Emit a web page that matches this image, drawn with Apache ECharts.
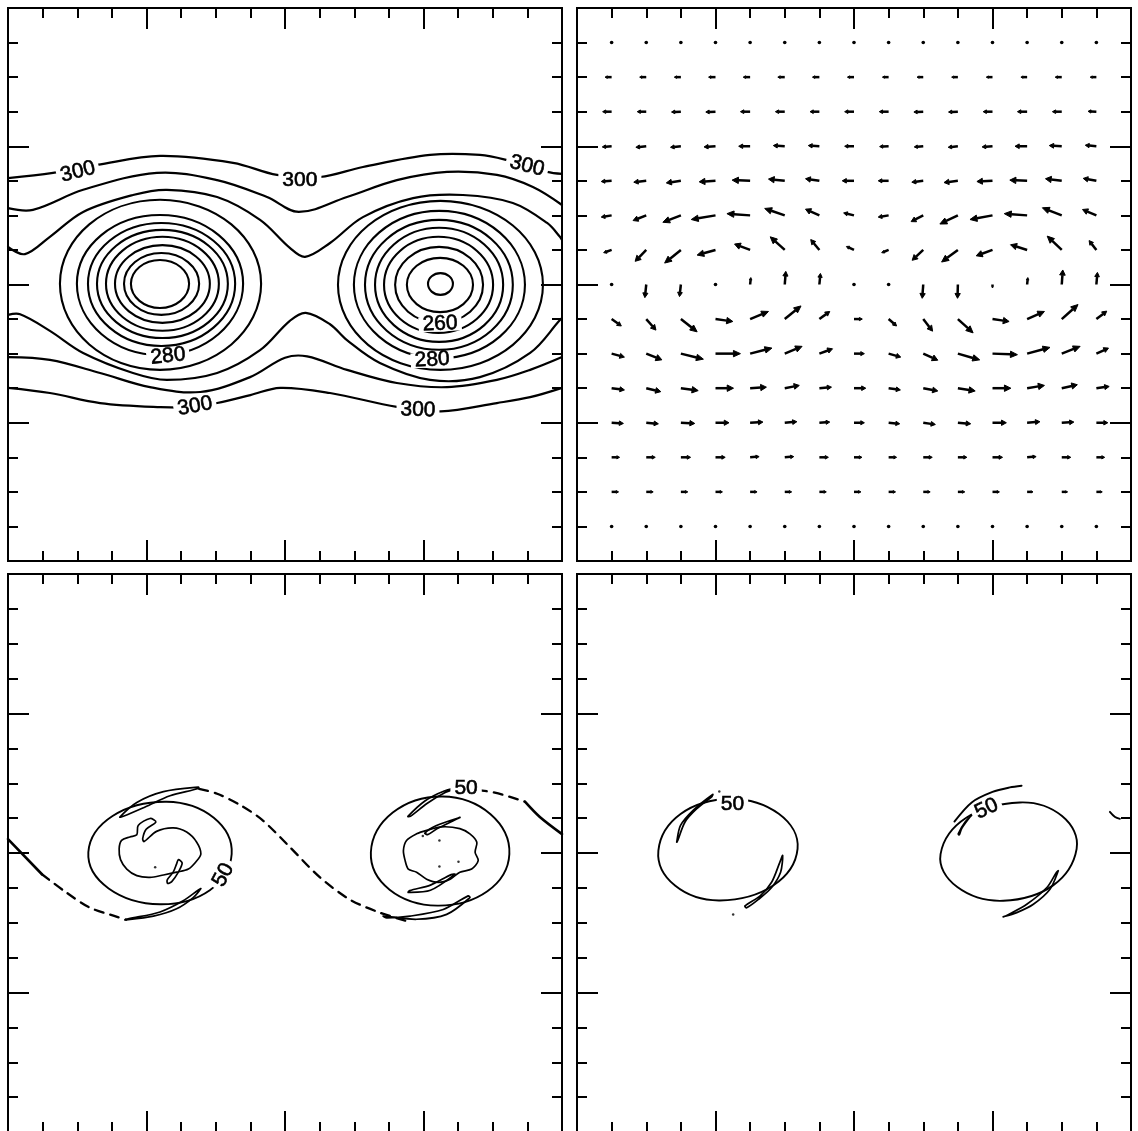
<!DOCTYPE html>
<html><head><meta charset="utf-8">
<script src="https://cdn.jsdelivr.net/npm/echarts@6/dist/echarts.min.js"></script>
<style>html,body{margin:0;padding:0;background:#fff}#c{width:1138px;height:1131px}</style>
</head><body><div id="c"></div>
<script>
// ---------- Panel 1 (top-left): temperature-like contours ----------
const TL_T1 = [[0,11.08],[1.30,11.23],[2.57,11.46],[4.39,11.72],[6.50,11.52],[7.77,11.17],[9.01,11.11],[10.25,11.40],[12.19,11.75],[13.63,11.75],[14.41,11.60],[15.57,11.26],[16,11.20]];
const TL_T2 = [[0,10.21],[0.72,10.16],[2.17,10.74],[4.30,11.23],[6.04,11.02],[7.48,10.53],[8.4,10.10],[9.79,10.53],[11.23,11.02],[12.68,11.26],[14.12,11.17],[15.16,10.82],[16,10.30]];
const TL_T3 = [[0,9.09],[0.49,8.88],[1.21,9.38],[2.17,10.10],[3.61,10.59],[4.59,10.74],[6.04,10.53],[7.28,9.87],[8.14,9.06],[8.58,8.80],[9.30,9.20],[10.25,9.95],[11.70,10.50],[13.14,10.59],[14.58,10.36],[15.57,9.78],[15.94,9.38],[16,9.29]];
const TL_B3 = [[0,7.12],[0.35,7.14],[1.21,6.66],[2.17,6.02],[3.61,5.44],[4.59,5.24],[6.04,5.44],[7.28,6.10],[8.14,6.95],[8.60,7.18],[9.30,6.85],[9.79,6.39],[10.74,5.73],[12.19,5.24],[13.63,5.32],[15.08,6.02],[15.94,6.97],[16,7.03]];
const TL_B2 = [[0,5.90],[1.21,5.82],[2.66,5.44],[4.10,5.03],[5.55,4.89],[6.99,5.32],[8.0,5.88],[8.64,5.92],[9.79,5.53],[11.23,5.15],[12.68,5.03],[14.12,5.24],[15.08,5.53],[16,5.90]];
const TL_B1 = [[0,5.01],[1.21,4.86],[2.66,4.57],[4.4,4.45],[5.4,4.45],[6.04,4.57],[7.0,4.80],[7.86,5.01],[9.3,4.86],[11.23,4.46],[12.5,4.33],[14.12,4.57],[15.08,4.74],[16,5.01]];
// closed rings: right, top, left, bottom
const TL_ringsLeft = [
  [[5.23,8.02],[4.39,8.71],[3.55,8.02],[4.39,7.32]],
  [[5.52,8.02],[4.43,8.91],[3.35,8.02],[4.43,7.12]],
  [[5.83,8.02],[4.46,9.14],[3.09,8.02],[4.46,6.89]],
  [[6.09,8.02],[4.46,9.38],[2.83,8.02],[4.46,6.66]],
  [[6.35,8.02],[4.46,9.58],[2.57,8.02],[4.46,6.45]],
  [[6.56,8.02],[4.43,9.78],[2.31,8.02],[4.43,6.22]],
  [[6.79,8.02],[4.39,10.01],[1.99,8.02],[4.39,5.96]],
  [[7.31,8.02],[4.39,10.45],[1.50,8.02],[4.39,5.53]]
];
const TL_ringsRight = [
  [[12.85,8.02],[12.49,8.33],[12.13,8.02],[12.49,7.70]],
  [[13.43,7.99],[12.48,8.77],[11.52,7.99],[12.48,7.20]],
  [[13.72,7.99],[12.45,9.09],[11.18,7.99],[12.45,6.89]],
  [[14.01,7.99],[12.43,9.38],[10.86,7.99],[12.43,6.60]],
  [[14.30,7.99],[12.45,9.64],[10.60,7.99],[12.45,6.34]],
  [[14.58,7.99],[12.45,9.87],[10.31,7.99],[12.45,6.11]],
  [[14.93,7.99],[12.46,10.13],[9.99,7.99],[12.46,5.87]],
  [[15.45,7.99],[12.49,10.42],[9.53,7.99],[12.49,5.53]]
];
const TL_labels = [[2.02,11.26,'300'],[8.43,11.02,'300'],[14.99,11.43,'300'],[5.40,4.48,'300'],[11.84,4.37,'300'],[4.62,5.93,'280'],[12.25,5.82,'280'],[12.48,6.86,'260']];
const TL_labelAngles = [14, 0, -14, 10, -2, 6, 3, 3];

// ---------- Panel 2 (top-right): wind vectors ----------
const TR_colX = [1,2,3,4,5,6,7,8,9,10,11,12,13,14,15];
const TR_rowY = [15,14,13,12,11,10,9,8,7,6,5,4,3,2,1];
const TR_U = [
  [-0.03,-0.03,-0.03,-0.03,-0.03,-0.03,-0.03,-0.03,-0.03,-0.03,-0.03,-0.03,-0.03,-0.03,-0.03],
  [-0.19,-0.19,-0.19,-0.2,-0.2,-0.2,-0.2,-0.19,-0.18,-0.18,-0.18,-0.18,-0.18,-0.19,-0.18],
  [-0.26,-0.26,-0.27,-0.28,-0.28,-0.27,-0.27,-0.27,-0.27,-0.27,-0.27,-0.27,-0.28,-0.27,-0.24],
  [-0.27,-0.3,-0.3,-0.33,-0.33,-0.33,-0.32,-0.27,-0.26,-0.26,-0.28,-0.3,-0.35,-0.36,-0.32],
  [-0.3,-0.36,-0.42,-0.47,-0.52,-0.47,-0.4,-0.34,-0.3,-0.33,-0.4,-0.45,-0.5,-0.47,-0.38],
  [-0.3,-0.38,-0.52,-0.7,-0.67,-0.58,-0.4,-0.3,-0.3,-0.35,-0.52,-0.65,-0.66,-0.56,-0.4],
  [-0.23,-0.32,-0.47,-0.53,-0.45,-0.42,-0.25,-0.22,-0.2,-0.32,-0.47,-0.47,-0.48,-0.42,-0.21],
  [0,-0.04,-0.04,0,0.02,0.03,0.03,0,0,-0.03,-0.01,0,0.02,0.03,0.03],
  [0.28,0.28,0.47,0.5,0.53,0.47,0.3,0.24,0.23,0.27,0.44,0.48,0.5,0.47,0.3],
  [0.37,0.45,0.65,0.72,0.63,0.5,0.38,0.3,0.35,0.42,0.63,0.72,0.66,0.53,0.35],
  [0.37,0.42,0.5,0.52,0.47,0.42,0.35,0.34,0.34,0.42,0.5,0.53,0.5,0.45,0.37],
  [0.34,0.35,0.4,0.39,0.37,0.35,0.3,0.3,0.32,0.35,0.37,0.4,0.37,0.35,0.33],
  [0.23,0.26,0.28,0.28,0.26,0.26,0.26,0.23,0.23,0.26,0.26,0.29,0.26,0.26,0.24],
  [0.2,0.2,0.2,0.2,0.2,0.2,0.2,0.2,0.2,0.2,0.2,0.2,0.17,0.17,0.17],
  [0.03,0.03,0.03,0.03,0.03,0.03,0.03,0.03,0.03,0.03,0.03,0.03,0.03,0.03,0.03]
];
const TR_V = [
  [0,0,0,0,0,0,0,0,0,0,0,0,0,0,0],
  [0,0,0,0,0,0,0,0,0,0,0,0,0,0,0],
  [0,0,-0.01,-0.01,0,0,0,0,0,-0.01,-0.01,0,0,0,0.01],
  [-0.02,-0.03,-0.03,-0.02,0,0.02,0.02,0,-0.01,-0.02,-0.03,-0.02,0,0.02,0.03],
  [-0.02,-0.04,-0.06,-0.03,0.02,0.05,0.06,0,0,-0.04,-0.05,-0.02,0.02,0.06,0.07],
  [-0.05,-0.15,-0.2,-0.12,0.05,0.2,0.18,0.07,-0.05,-0.18,-0.25,-0.12,0.05,0.22,0.17],
  [-0.08,-0.33,-0.38,-0.15,0.17,0.38,0.3,0.1,-0.08,-0.3,-0.35,-0.17,0.15,0.4,0.27],
  [-0.05,-0.38,-0.35,-0.06,0.2,0.38,0.32,0.03,-0.08,-0.4,-0.4,-0.1,0.2,0.42,0.35],
  [-0.2,-0.32,-0.37,-0.07,0.22,0.38,0.22,0,-0.2,-0.35,-0.4,-0.07,0.22,0.42,0.23],
  [-0.1,-0.18,-0.16,0,0.16,0.21,0.14,0,-0.1,-0.19,-0.18,-0.03,0.18,0.21,0.16],
  [-0.05,-0.1,-0.07,0,0.03,0.08,0.03,0,-0.05,-0.08,-0.08,0,0.08,0.1,0.05],
  [-0.02,-0.03,-0.02,0,0.02,0.03,0.02,0,-0.03,-0.05,-0.03,0,0.03,0.02,0],
  [0,0,0,0,0.02,0.02,0,0,0,0,0,0,0.02,0,0],
  [0,0,0,0,0,0,0,0,0,0,0,0,0,0,0],
  [0,0,0,0,0,0,0,0,0,0,0,0,0,0,0]
];

// ---------- Panel 3 (bottom-left): tracer spirals ----------
const BL_ellipses = [
  [[6.46,7.97],[4.58,9.47],[2.32,8.02],[4.39,6.53]],
  [[14.48,7.97],[12.55,9.62],[10.48,8.02],[12.40,6.49]]
];
const BL_blobs = [
  [[3.21,8.12],[3.28,8.36],[3.52,8.46],[3.72,8.52],[3.76,8.79],[4.10,8.99],[4.27,8.89],[3.99,8.68],[3.89,8.41],[3.93,8.33],[4.29,8.62],[4.77,8.72],[5.16,8.60],[5.45,8.31],[5.57,7.97],[5.43,7.75],[5.21,7.54],[4.87,7.45],[4.49,7.37],[4.10,7.30],[3.72,7.35],[3.43,7.54],[3.25,7.81]],
  [[11.42,8.07],[11.51,8.36],[11.80,8.55],[12.09,8.65],[12.53,8.75],[13.05,8.70],[13.34,8.55],[13.54,8.31],[13.49,8.02],[13.58,7.78],[13.39,7.54],[13.05,7.45],[12.77,7.25],[12.43,7.16],[12.09,7.25],[11.80,7.45],[11.56,7.54],[11.47,7.78]]
];
const BL_leaves = [
  [[3.23,9.03],[3.72,9.45],[4.49,9.76],[5.50,9.89],[5.50,9.85],[4.68,9.64],[3.96,9.32],[3.35,9.06]],
  [[3.38,6.08],[4.20,6.19],[4.87,6.40],[5.35,6.72],[5.57,6.98],[5.50,6.94],[5.06,6.63],[4.39,6.31],[3.47,6.11]],
  [[4.92,7.81],[5.03,7.71],[4.92,7.45],[4.73,7.18],[4.61,7.13],[4.60,7.23],[4.77,7.45],[4.87,7.69]],
  [[12.04,8.57],[12.36,8.78],[13.05,9.02],[12.93,8.96],[12.40,8.70],[12.13,8.53]],
  [[11.56,6.87],[12.2,6.93],[12.91,7.39],[12.80,7.38],[12.2,7.08],[11.6,6.92]],
  [[10.84,6.19],[11.80,6.10],[12.67,6.24],[13.34,6.72],[13.29,6.77],[12.57,6.38],[11.61,6.19],[10.94,6.14]],
  [[11.55,9.05],[12.05,9.5],[12.6,9.78],[13.0,9.87],[12.6,9.72],[12.1,9.42],[11.62,9.05]]
];
const BL_solid = [
  [[0,8.40],[0.98,7.39]],
  [[14.93,9.47],[15.36,9.03],[16,8.54]]
];
const BL_dashed = [
  [[0.98,7.39],[1.68,6.87],[2.37,6.43],[3.15,6.17],[3.41,6.09]],
  [[5.52,9.84],[6.04,9.70],[6.70,9.38],[7.34,8.95],[8.14,8.17],[9.01,7.30],[9.88,6.66],[10.74,6.29],[11.58,6.03]],
  [[13.57,9.81],[14.06,9.73],[14.50,9.61],[14.93,9.47]]
];
const BL_dots = [[4.25,7.59],[11.98,8.49],[12.46,8.36],[13.01,7.75],[12.46,7.61]];
const BL_labels = [[6.22,7.37,'50'],[13.23,9.86,'50']];
const BL_labelAngles = [62, 0];

// ---------- Panel 4 (bottom-right): tracer ellipses ----------
const BR_ellipses = [
  [[6.37,8.12],[4.42,9.55],[2.35,8.07],[4.13,6.64]],
  [[14.43,8.12],[12.79,9.45],[10.50,7.97],[12.31,6.63]]
];
const BR_leaves = [
  [[2.88,8.31],[2.99,8.79],[3.36,9.23],[3.92,9.68],[3.89,9.61],[3.46,9.27],[3.12,8.89],[2.91,8.36]],
  [[5.94,7.93],[5.88,7.45],[5.62,7.01],[5.24,6.67],[4.90,6.43],[4.85,6.48],[5.29,6.77],[5.62,7.16],[5.86,7.74]],
  [[11.01,8.55],[11.21,8.89],[11.45,9.13],[11.35,9.03],[11.11,8.70],[11.04,8.52]],
  [[13.90,7.49],[13.66,6.96],[13.18,6.53],[12.70,6.29],[12.31,6.17],[12.41,6.21],[12.99,6.53],[13.57,7.01],[13.85,7.45]]
];
const BR_open = [
  [[10.9,8.9],[11.4,9.45],[12.0,9.75],[12.5,9.88],[12.84,9.93]],
  [[15.39,9.18],[15.54,9.03],[15.68,8.98]]
];
const BR_dots = [[4.51,6.24],[4.11,9.76]];
const BR_labels = [[4.49,9.41,'50'],[11.83,9.27,'50']];
const BR_labelAngles = [0, 25];

// ---------- chart construction ----------
const FONT = '"Liberation Sans", Arial, Helvetica, sans-serif';
function ax(g, pos, long) {
  return {type:'value', gridIndex:g, position:pos, min:0, max:16, interval: long ? 4 : 1,
    axisLine:{show:true, onZero:false, lineStyle:{color:'#000', width:2}},
    axisTick:{show:true, inside:true, length: long ? 21 : 10, lineStyle:{color:'#000', width:2}},
    axisLabel:{show:false}, splitLine:{show:false}, minorTick:{show:false}};
}
const xAxes = [], yAxes = [];
for (let g = 0; g < 4; g++) {
  [['bottom',false],['bottom',true],['top',false],['top',true]].forEach(a => xAxes.push(ax(g, a[0], a[1])));
  [['left',false],['left',true],['right',false],['right',true]].forEach(a => yAxes.push(ax(g, a[0], a[1])));
}
function linesSeries(g, lines, o) {
  return {type:'custom', coordinateSystem:'cartesian2d', xAxisIndex:4*g, yAxisIndex:4*g,
    silent:true, animation:false, clip:false, z: 2,
    data: lines.map(l => l[0]),
    renderItem: (params, api) => {
      const pts = lines[params.dataIndex].map(p => api.coord(p));
      return {type: o.closed ? 'polygon' : 'polyline',
        shape:{points: pts, smooth: o.smooth || 0},
        style:{fill:'none', stroke:'#000', lineWidth: o.width || 2, lineDash: o.dash || null, lineJoin:'round', lineCap:'round'}};
    }};
}
function labelSeries(g, labels, angles, size) {
  return {type:'custom', coordinateSystem:'cartesian2d', xAxisIndex:4*g, yAxisIndex:4*g,
    silent:true, animation:false, clip:false, z: 5,
    data: labels.map(l => [l[0], l[1]]),
    renderItem: (params, api) => {
      const l = labels[params.dataIndex];
      const p = api.coord([l[0], l[1]]);
      return {type:'text', x:p[0], y:p[1], rotation: angles[params.dataIndex] * Math.PI / 180,
        style:{text:l[2], font: size + 'px ' + FONT, fill:'#000', stroke:'#000', lineWidth:0.6,
          align:'center', verticalAlign:'middle',
          backgroundColor:'#fff', padding:[0,4], lineHeight: Math.round(size*0.72)}};
    }};
}
function arrowSeries(g) {
  const data = [];
  for (let r = 0; r < TR_rowY.length; r++)
    for (let c = 0; c < TR_colX.length; c++)
      data.push([TR_colX[c], TR_rowY[r], TR_U[r][c], TR_V[r][c]]);
  return {type:'custom', coordinateSystem:'cartesian2d', xAxisIndex:4*g, yAxisIndex:4*g,
    silent:true, animation:false, clip:false, z: 2, data,
    renderItem: (params, api) => {
      const x = api.value(0), y = api.value(1), u = api.value(2), v = api.value(3);
      const p0 = api.coord([x, y]), p1 = api.coord([x + u, y + v]);
      const dx = p1[0]-p0[0], dy = p1[1]-p0[1], L = Math.hypot(dx, dy);
      if (L < 3) return {type:'circle', shape:{cx:p0[0], cy:p0[1], r:1.8}, style:{fill:'#000'}};
      const ux = dx/L, uy = dy/L;
      const hl = Math.min(7, L*0.35), hw = Math.min(3.2, hl*0.55);
      const b = [p1[0]-ux*hl, p1[1]-uy*hl];
      return {type:'group', children:[
        {type:'line', shape:{x1:p0[0], y1:p0[1], x2:b[0], y2:b[1]}, style:{stroke:'#000', lineWidth:2.5}},
        {type:'polygon', shape:{points:[p1, [b[0]-uy*hw, b[1]+ux*hw], [b[0]+uy*hw, b[1]-ux*hw]]}, style:{fill:'#000', stroke:'#000', lineWidth:1}}
      ]};
    }};
}
function dotSeries(g, pts) {
  return {type:'scatter', xAxisIndex:4*g, yAxisIndex:4*g, data: pts, symbol:'circle', symbolSize:2.5,
    itemStyle:{color:'#000'}, silent:true, animation:false, z:3};
}

const option = {
  backgroundColor:'#fff', animation:false,
  grid:[
    {left:8, top:8, width:554, height:553, containLabel:false, outerBoundsMode:'none'},
    {left:577, top:8, width:554, height:553, containLabel:false, outerBoundsMode:'none'},
    {left:8, top:574, width:554, height:558, containLabel:false, outerBoundsMode:'none'},
    {left:577, top:574, width:554, height:558, containLabel:false, outerBoundsMode:'none'}
  ],
  xAxis: xAxes, yAxis: yAxes,
  series:[
    linesSeries(0, [TL_T1, TL_T2, TL_T3, TL_B3, TL_B2, TL_B1], {smooth:0.35, width:2.2}),
    linesSeries(0, TL_ringsLeft.concat(TL_ringsRight), {closed:true, smooth:0.55, width:2.1}),
    labelSeries(0, TL_labels, TL_labelAngles, 21),
    arrowSeries(1),
    linesSeries(2, BL_ellipses, {closed:true, smooth:0.55, width:1.9}),
    linesSeries(2, BL_blobs, {closed:true, smooth:0.3, width:1.7}),
    linesSeries(2, BL_leaves, {closed:true, smooth:0.3, width:1.7}),
    linesSeries(2, BL_solid, {smooth:0.3, width:2.6}),
    linesSeries(2, BL_dashed, {smooth:0.3, width:2.3, dash:[9,7]}),
    dotSeries(2, BL_dots),
    labelSeries(2, BL_labels, BL_labelAngles, 21),
    linesSeries(3, BR_ellipses, {closed:true, smooth:0.55, width:1.9}),
    linesSeries(3, BR_leaves, {closed:true, smooth:0.3, width:1.7}),
    linesSeries(3, BR_open, {smooth:0.3, width:1.9}),
    dotSeries(3, BR_dots),
    labelSeries(3, BR_labels, BR_labelAngles, 21)
  ]
};
const chart = echarts.init(document.getElementById('c'), null, {renderer:'canvas'});
chart.setOption(option);
</script></body></html>
